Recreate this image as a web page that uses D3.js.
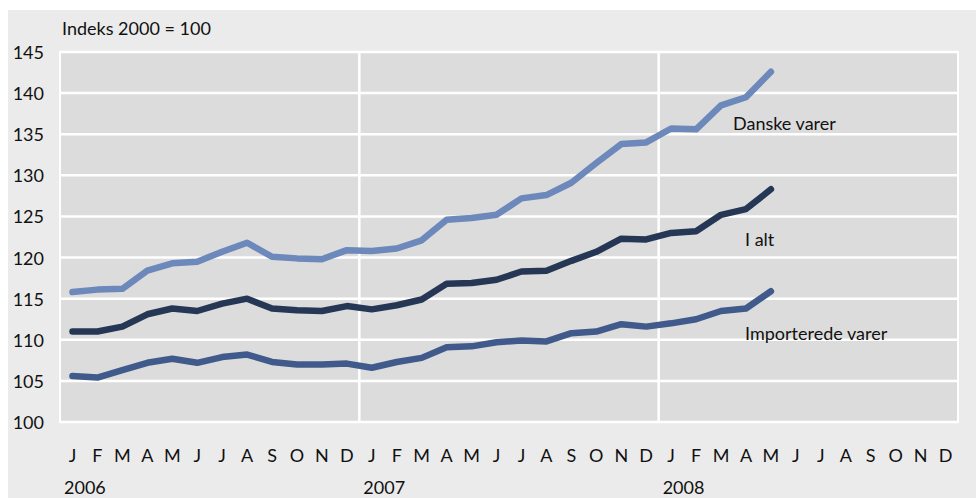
<!DOCTYPE html>
<html>
<head>
<meta charset="utf-8">
<script src="https://cdn.jsdelivr.net/npm/d3@7"></script>
<style>
  body { margin: 0; background: #fff; }
  svg text { font-family: Lato, "Open Sans", sans-serif; fill: #111; }
</style>
</head>
<body>
<div id="chart"></div>
<script>
// month labels (3 years) and year labels
var months = ["J","F","M","A","M","J","J","A","S","O","N","D"];
var years = ["2006", "2007", "2008"];
var yTicks = [100, 105, 110, 115, 120, 125, 130, 135, 140, 145];

// monthly index values Jan 2006 - May 2008
var danske = [115.8, 116.1, 116.2, 118.4, 119.3, 119.5, 120.7, 121.8, 120.1, 119.9, 119.8, 120.9,
              120.8, 121.1, 122.1, 124.6, 124.8, 125.2, 127.2, 127.6, 129.1, 131.5, 133.8, 134.0,
              135.7, 135.6, 138.5, 139.5, 142.6];
var ialt = [111.0, 111.0, 111.6, 113.1, 113.8, 113.5, 114.4, 115.0, 113.8, 113.6, 113.5, 114.1,
            113.7, 114.2, 114.9, 116.8, 116.9, 117.3, 118.3, 118.4, 119.6, 120.7, 122.3, 122.2,
            123.0, 123.2, 125.2, 125.9, 128.3];
var importerede = [105.6, 105.4, 106.3, 107.2, 107.7, 107.2, 107.9, 108.2, 107.3, 107.0, 107.0, 107.1,
                   106.6, 107.3, 107.8, 109.1, 109.2, 109.7, 109.9, 109.8, 110.8, 111.0, 111.9, 111.6,
                   112.0, 112.5, 113.5, 113.8, 115.9];
var seriesNames = ["Danske varer", "I alt", "Importerede varer"];

var W = 976, H = 498;
var margin = { left: 60, top: 52, right: 18, bottom: 76 };
var fs = 18;
var svg = d3.select("#chart").append("svg").attr("width", W).attr("height", H);

svg.append("rect").attr("x", 8).attr("y", 10).attr("width", W - 8).attr("height", H - 10).attr("fill", "#ebebeb");

var nMonths = months.length * years.length;
var x = d3.scaleLinear().domain([0, nMonths]).range([margin.left, W - margin.right]);
var y = d3.scaleLinear().domain([100, 145]).range([H - margin.bottom, margin.top]);

svg.append("rect")
    .attr("x", x(0)).attr("y", y(145))
    .attr("width", x(nMonths) - x(0)).attr("height", y(100) - y(145))
    .attr("fill", "#dcdcdc").attr("stroke", "#fff").attr("stroke-width", 2);

svg.selectAll(".hgrid").data(yTicks).enter().append("line")
    .attr("x1", x(0)).attr("x2", x(nMonths))
    .attr("y1", function(d){ return y(d); }).attr("y2", function(d){ return y(d); })
    .attr("stroke", "#fff").attr("stroke-width", 2.5);

svg.selectAll(".vgrid").data([12, 24]).enter().append("line")
    .attr("x1", function(d){ return x(d); }).attr("x2", function(d){ return x(d); })
    .attr("y1", y(145)).attr("y2", y(100))
    .attr("stroke", "#fff").attr("stroke-width", 2.5);

// y axis labels
svg.selectAll(".ylab").data(yTicks).enter().append("text")
    .attr("x", 44).attr("y", function(d){ return y(d) + 7; })
    .attr("text-anchor", "end").attr("font-size", fs)
    .text(function(d){ return d; });

svg.append("text").attr("x", 62).attr("y", 35).attr("font-size", fs).text("Indeks 2000 = 100");

// month labels
var monthIdx = d3.range(nMonths);
svg.selectAll(".mlab").data(monthIdx).enter().append("text")
    .attr("x", function(d){ return x(d + 0.5); }).attr("y", 462)
    .attr("text-anchor", "middle").attr("font-size", fs)
    .text(function(d){ return months[d % 12]; });

svg.selectAll(".ylabel").data(years).enter().append("text")
    .attr("x", function(d, i){ return x(i * 12) + 4; }).attr("y", 494)
    .attr("font-size", fs)
    .text(function(d){ return d; });

// lines
var line = d3.line()
    .x(function(d, i){ return x(i + 0.5); })
    .y(function(d){ return y(d); });

var series = [
    { values: danske, color: "#6d88ba" },
    { values: ialt, color: "#263655" },
    { values: importerede, color: "#405a8b" }
];
series.forEach(function(s){
    svg.append("path").datum(s.values)
        .attr("d", line)
        .attr("fill", "none")
        .attr("stroke", s.color)
        .attr("stroke-width", 6.5)
        .attr("stroke-linecap", "round")
        .attr("stroke-linejoin", "round");
});

// series labels
var labelPos = [[733, 130], [745, 246], [745, 340]];
svg.selectAll(".slab").data(seriesNames).enter().append("text")
    .attr("x", function(d, i){ return labelPos[i][0]; })
    .attr("y", function(d, i){ return labelPos[i][1]; })
    .attr("font-size", fs)
    .text(function(d){ return d; });
</script>
</body>
</html>
